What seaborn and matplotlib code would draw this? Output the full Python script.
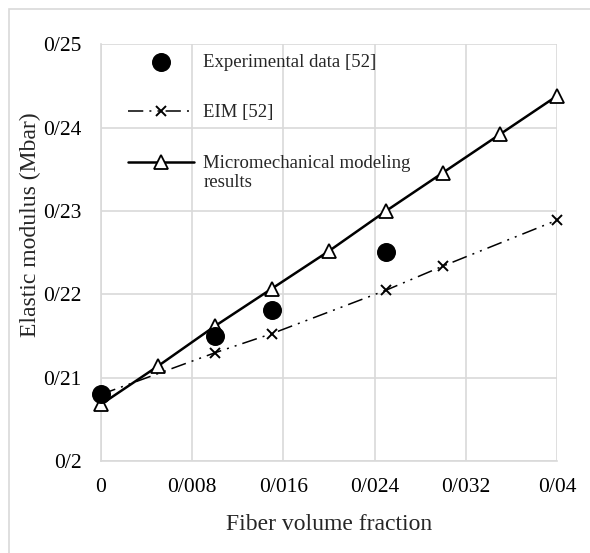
import matplotlib
matplotlib.use("Agg")
import matplotlib.pyplot as plt
from matplotlib.ticker import FuncFormatter
from matplotlib.patches import Rectangle
import seaborn as sns

# data
exp_x = [0.0, 0.010, 0.015, 0.025]
exp_y = [0.2080, 0.2150, 0.2181, 0.2251]

eim_x = [0.0, 0.010, 0.015, 0.025, 0.030, 0.040]
eim_y = [0.2080, 0.2130, 0.2153, 0.2205, 0.2234, 0.2289]

mm_x = [0.0, 0.005, 0.010, 0.015, 0.020, 0.025, 0.030, 0.035, 0.040]
mm_y = [0.2068, 0.2114, 0.2162, 0.2207, 0.2252, 0.2300, 0.2346, 0.2392, 0.2438]

x_ticks = [0, 0.008, 0.016, 0.024, 0.032, 0.04]
y_ticks = [0.20, 0.21, 0.22, 0.23, 0.24, 0.25]

sns.set_style("whitegrid")
plt.rcParams["font.family"] = ["Liberation Serif", "DejaVu Serif"]

fig = plt.figure(figsize=(5.9, 5.53), dpi=100)
ax = fig.add_axes([0.171, 0.166, 0.773, 0.754])

sns.scatterplot(x=exp_x, y=exp_y, ax=ax, color="black", s=160, edgecolor="black",
                zorder=4, label="Experimental data [52]", clip_on=False)
sns.lineplot(x=eim_x, y=eim_y, ax=ax, color="black", linewidth=1.1,
             label="EIM [52]", zorder=3)
eim_line = ax.lines[-1]
eim_line.set_dashes([10, 4, 1.3, 4, 1.3, 4])
eim_line.set_marker("x")
eim_line.set_markersize(7)
eim_line.set_markeredgecolor("black")
eim_line.set_markeredgewidth(1.4)
eim_line.set_clip_on(False)
sns.lineplot(x=mm_x, y=mm_y, ax=ax, color="black", linewidth=1.8,
             label="Micromechanical modeling", zorder=3)
mm_line = ax.lines[-1]
mm_line.set_marker("^")
mm_line.set_markersize(10)
mm_line.set_markerfacecolor("white")
mm_line.set_markeredgecolor("black")
mm_line.set_markeredgewidth(1.3)
mm_line.set_clip_on(False)

ax.set_xlim(0, 0.04)
ax.set_ylim(0.2, 0.25)
ax.set_xticks(x_ticks)
ax.set_yticks(y_ticks)
fmt = FuncFormatter(lambda v, p: f"{v:g}".replace(".", "/"))
ax.xaxis.set_major_formatter(fmt)
ax.yaxis.set_major_formatter(fmt)
ax.tick_params(axis="both", labelsize=15.5, length=0, colors="black")
ax.tick_params(axis="y", pad=14)
ax.tick_params(axis="x", pad=12)
ax.grid(True, color="#d9d9d9", linewidth=1.2)
for side in ["top", "right"]:
    ax.spines[side].set_visible(False)
for side in ["left", "bottom"]:
    ax.spines[side].set_color("#d9d9d9")
    ax.spines[side].set_linewidth(1.2)

ax.set_xlabel("Fiber volume fraction", fontsize=17, labelpad=12)
ax.set_ylabel("Elastic modulus (Mbar)", fontsize=17)
ax.yaxis.set_label_coords(-0.132, 0.568)

leg = ax.legend(loc="upper left", bbox_to_anchor=(0.035, 1.005), frameon=False,
                fontsize=13.5, handlelength=3.5, labelspacing=1.8,
                handletextpad=0.5, borderaxespad=0.2)

# second line of the last legend label, placed under its first line
fig.canvas.draw()
last = leg.get_texts()[-1].get_window_extent()
x0, y0 = fig.transFigure.inverted().transform((last.x0, last.y0))
fig.text(x0, y0 - 0.004, "results", fontsize=13.5, ha="left", va="top")

fig.patches.append(Rectangle((9 / 590, -0.1), 1.2, 1 - 9 / 553 + 0.1,
                             transform=fig.transFigure, fill=False,
                             edgecolor="#d9d9d9", linewidth=1.2))

fig.savefig("out.png", dpi=100)
